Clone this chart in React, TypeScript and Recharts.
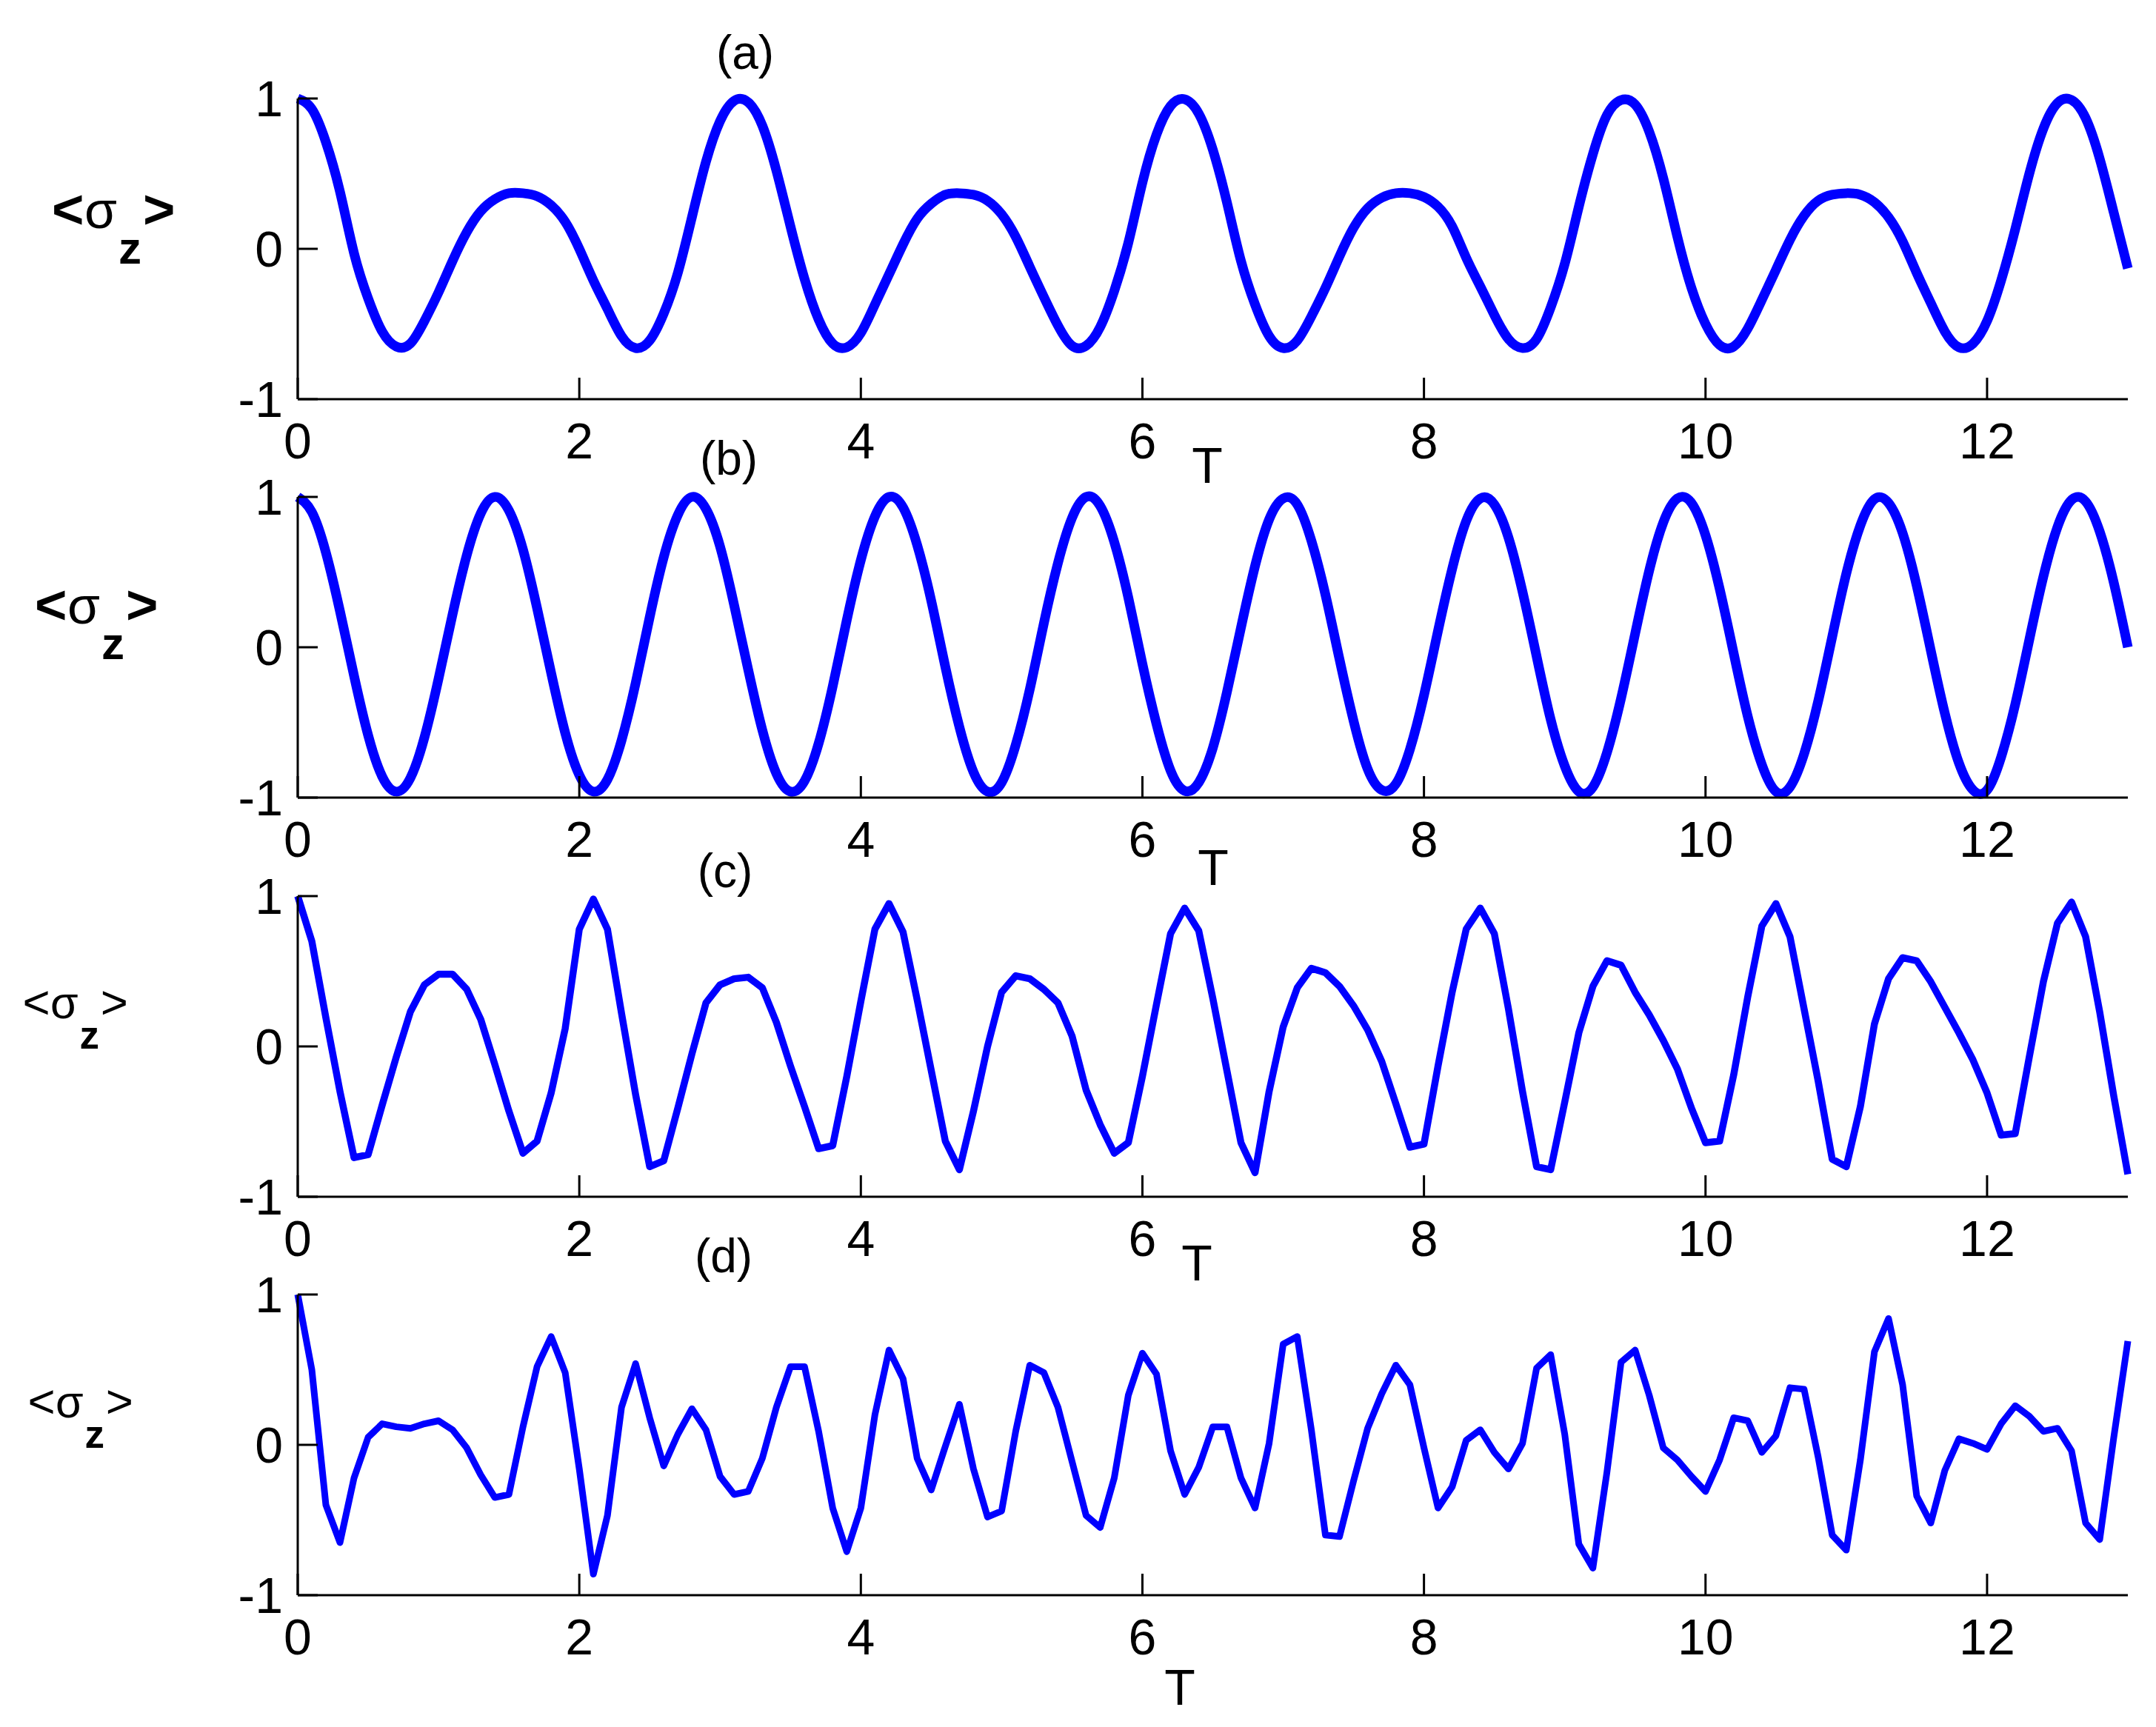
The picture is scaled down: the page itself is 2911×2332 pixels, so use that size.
import React from "react";
import { LineChart, Line, XAxis, YAxis } from "recharts";

// sampling of T used by all four panels (0 .. 13, step 0.1)
const timeStep = 0.1;
const xTicks = [0, 2, 4, 6, 8, 10, 12];
const yTicks = [-1, 0, 1];
const panelNames = ["(a)", "(b)", "(c)", "(d)"];

// <sigma_z>
const sigmaA = [
    1.0, 0.93, 0.71, 0.38, -0.03, -0.33, -0.55, -0.65, -0.63, -0.48,
    -0.29, -0.08, 0.11, 0.25, 0.33, 0.37, 0.37, 0.35, 0.29, 0.18,
    0.0, -0.21, -0.4, -0.58, -0.66, -0.61, -0.43, -0.16, 0.21, 0.58,
    0.85, 0.985, 0.975, 0.82, 0.52, 0.15, -0.2, -0.47, -0.63, -0.655,
    -0.56, -0.37, -0.17, 0.03, 0.2, 0.3, 0.36, 0.37, 0.36, 0.32,
    0.23, 0.08, -0.12, -0.32, -0.51, -0.645, -0.645, -0.52, -0.28, 0.04,
    0.44, 0.76, 0.95, 0.995, 0.9, 0.66, 0.31, -0.08, -0.37, -0.58,
    -0.66, -0.61, -0.45, -0.26, -0.05, 0.14, 0.27, 0.34, 0.37, 0.37,
    0.345, 0.28, 0.15, -0.06, -0.25, -0.44, -0.6, -0.66, -0.6, -0.39,
    -0.1, 0.28, 0.63, 0.89, 0.99, 0.96, 0.78, 0.47, 0.08, -0.26,
    -0.5, -0.64, -0.65, -0.53, -0.34, -0.14, 0.06, 0.22, 0.32, 0.36,
    0.37, 0.36, 0.31, 0.21, 0.05, -0.16, -0.36, -0.55, -0.655, -0.63,
    -0.48, -0.21, 0.13, 0.5, 0.8, 0.97, 0.99, 0.87, 0.6, 0.24,
    -0.13,
];

const sigmaB = [
    1.0, 0.9, 0.63, 0.24, -0.19, -0.585, -0.86, -0.96, -0.87, -0.6,
    -0.21, 0.22, 0.61, 0.89, 1.0, 0.91, 0.65, 0.26, -0.17, -0.57,
    -0.85, -0.96, -0.88, -0.62, -0.24, 0.2, 0.6, 0.88, 1.0, 0.92,
    0.67, 0.28, -0.15, -0.55, -0.84, -0.96, -0.89, -0.64, -0.26, 0.18,
    0.58, 0.87, 1.0, 0.93, 0.68, 0.31, -0.13, -0.53, -0.83, -0.96,
    -0.9, -0.65, -0.28, 0.16, 0.56, 0.86, 1.0, 0.94, 0.7, 0.33,
    -0.11, -0.51, -0.82, -0.955, -0.9, -0.67, -0.3, 0.13, 0.54, 0.85,
    0.99, 0.95, 0.71, 0.35, -0.08, -0.49, -0.81, -0.95, -0.91, -0.68,
    -0.32, 0.11, 0.52, 0.84, 0.99, 0.95, 0.73, 0.37, -0.06, -0.48,
    -0.79, -0.96, -0.93, -0.7, -0.34, 0.09, 0.51, 0.83, 0.99, 0.96,
    0.745, 0.39, -0.04, -0.46, -0.78, -0.96, -0.93, -0.71, -0.36, 0.07,
    0.49, 0.81, 0.985, 0.96, 0.76, 0.41, -0.02, -0.44, -0.77, -0.95,
    -0.95, -0.73, -0.38, 0.05, 0.47, 0.8, 0.98, 0.97, 0.77, 0.43,
    0.0,
];

const sigmaC = [
    1.0, 0.7, 0.19, -0.3, -0.74, -0.72, -0.39, -0.07, 0.23, 0.41,
    0.48, 0.48, 0.38, 0.18, -0.12, -0.43, -0.71, -0.63, -0.31, 0.12,
    0.78, 0.98, 0.78, 0.22, -0.32, -0.8, -0.76, -0.41, -0.05, 0.29,
    0.41, 0.45, 0.46, 0.39, 0.16, -0.13, -0.4, -0.68, -0.66, -0.2,
    0.3, 0.78, 0.95, 0.76, 0.31, -0.16, -0.63, -0.82, -0.43, 0.0,
    0.36, 0.47, 0.45, 0.38, 0.29, 0.07, -0.29, -0.52, -0.71, -0.64,
    -0.2, 0.28, 0.75, 0.92, 0.77, 0.32, -0.16, -0.64, -0.84, -0.3,
    0.13, 0.39, 0.52, 0.49, 0.4, 0.27, 0.11, -0.1, -0.38, -0.67,
    -0.65, -0.13, 0.36, 0.78, 0.92, 0.75, 0.25, -0.3, -0.8, -0.82,
    -0.37, 0.09, 0.4, 0.57, 0.54, 0.36, 0.21, 0.04, -0.15, -0.41,
    -0.64, -0.63, -0.19, 0.33, 0.8, 0.95, 0.73, 0.25, -0.23, -0.75,
    -0.8, -0.4, 0.15, 0.45, 0.59, 0.57, 0.43, 0.26, 0.09, -0.09,
    -0.31, -0.59, -0.58, -0.07, 0.43, 0.82, 0.96, 0.73, 0.23, -0.33,
    -0.85,
];

const sigmaD = [
    1.0, 0.5, -0.4, -0.65, -0.22, 0.05, 0.14, 0.12, 0.11, 0.14,
    0.16, 0.1, -0.02, -0.2, -0.35, -0.33, 0.12, 0.52, 0.72, 0.48,
    -0.16, -0.86, -0.47, 0.25, 0.54, 0.18, -0.14, 0.07, 0.24, 0.1,
    -0.21, -0.33, -0.31, -0.09, 0.25, 0.52, 0.52, 0.09, -0.42, -0.71,
    -0.42, 0.2, 0.63, 0.44, -0.09, -0.3, -0.01, 0.27, -0.16, -0.48,
    -0.44, 0.09, 0.53, 0.48, 0.25, -0.11, -0.47, -0.55, -0.22, 0.33,
    0.61, 0.47, -0.04, -0.33, -0.15, 0.12, 0.12, -0.22, -0.42, 0.01,
    0.67, 0.72, 0.1, -0.6, -0.61, -0.24, 0.11, 0.34, 0.53, 0.4,
    -0.02, -0.42, -0.28, 0.03, 0.1, -0.05, -0.16, 0.01, 0.51, 0.6,
    0.07, -0.66, -0.82, -0.18, 0.55, 0.63, 0.33, -0.02, -0.1, -0.21,
    -0.31, -0.1, 0.18, 0.16, -0.05, 0.06, 0.38, 0.37, -0.08, -0.6,
    -0.7, -0.1, 0.62, 0.84, 0.4, -0.34, -0.52, -0.17, 0.04, 0.01,
    -0.03, 0.14, 0.26, 0.19, 0.09, 0.11, -0.04, -0.52, -0.63, 0.05,
    0.69,
];

const FONT = "'Liberation Sans', Arial, Helvetica, sans-serif";
const BLUE = "#0000ff";
const CHART_W = 2911;
const CHART_H = 700;
const PLOT_TOP = 133; // plot top inside each chart svg
const PLOT_H = 406;
const Y_AXIS_W = 100;
const X_AXIS_H = 100;

const toRows = (vals: number[]) =>
    vals.map((v, i) => ({ t: Math.round(i * timeStep * 10) / 10, v }));

// layout for each panel (page y of the plot top, label spots in chart coords)
const panels = [
    { name: panelNames[0], values: sigmaA, plotTop: 133, lw: 13, smooth: true,
      sig: { cx: 156, cy: 311, size: 62, bold: true }, nameX: 1006, nameY: 93, tX: 1630, tY: 652 },
    { name: panelNames[1], values: sigmaB, plotTop: 671, lw: 13, smooth: true,
      sig: { cx: 133, cy: 307, size: 62, bold: true }, nameX: 984, nameY: 103, tX: 1638, tY: 657 },
    { name: panelNames[2], values: sigmaC, plotTop: 1210, lw: 9.5, smooth: false,
      sig: { cx: 104, cy: 301, size: 53, bold: false }, nameX: 979, nameY: 121, tX: 1616, tY: 652 },
    { name: panelNames[3], values: sigmaD, plotTop: 1748, lw: 9, smooth: false,
      sig: { cx: 111, cy: 302, size: 53, bold: false }, nameX: 977, nameY: 103, tX: 1593, tY: 687 },
];

// inward tick + label below the axis
const XTick = (props: any) => {
    const { x, y, payload } = props;
    return (
        <g>
            <line x1={x} x2={x} y1={y} y2={y - 29} stroke="#000" strokeWidth={3} />
            <text x={x} y={y + 80} textAnchor="middle" fontFamily={FONT} fontSize={68} fill="#000">
                {payload.value}
            </text>
        </g>
    );
};

const YTick = (props: any) => {
    const { x, y, payload } = props;
    return (
        <g>
            <line x1={x} x2={x + 27} y1={y} y2={y} stroke="#000" strokeWidth={3} />
            <text x={x - 20} y={y + 24} textAnchor="end" fontFamily={FONT} fontSize={68} fill="#000">
                {payload.value}
            </text>
        </g>
    );
};

const SigmaLabel = ({ cx, cy, size, bold }: { cx: number; cy: number; size: number; bold: boolean }) => {
    const k = size / 62;
    const base = cy - 3 * k;
    const w = bold ? "bold" : "normal";
    const bracket = size * 1.2;
    return (
        <text fontFamily={FONT} fontSize={size} fill="#000">
            <tspan x={cx - 86 * k} y={base} fontWeight={w} fontSize={bracket}>{"<"}</tspan>
            <tspan x={cx - 42 * k} y={base} fontSize={size * 1.15}>{"σ"}</tspan>
            <tspan x={cx + 4 * k} y={cy + 45 * k} fontWeight="bold">{"z"}</tspan>
            <tspan x={cx + 37 * k} y={base} fontWeight={w} fontSize={bracket}>{">"}</tspan>
        </text>
    );
};

export default function App() {
    return (
        <div
            style={{
                position: "absolute",
                left: 0,
                top: 0,
                width: 2911,
                height: 2332,
                background: "#fff",
                overflow: "hidden",
            }}
        >
            {panels.map((p) => (
                <div key={p.name} style={{ position: "absolute", left: 0, top: p.plotTop - PLOT_TOP }}>
                    <LineChart
                        width={CHART_W}
                        height={CHART_H}
                        data={toRows(p.values)}
                        margin={{
                            top: PLOT_TOP,
                            right: 38,
                            bottom: CHART_H - PLOT_TOP - PLOT_H - X_AXIS_H,
                            left: 402 - Y_AXIS_W,
                        }}
                    >
                        <XAxis
                            type="number"
                            dataKey="t"
                            domain={[0, 13]}
                            ticks={xTicks}
                            interval={0}
                            height={X_AXIS_H}
                            tickSize={0}
                            tickMargin={0}
                            tickLine={false}
                            axisLine={{ stroke: "#000", strokeWidth: 3 }}
                            tick={(props: any) => <XTick {...props} />}
                        />
                        <YAxis
                            type="number"
                            domain={[-1, 1]}
                            ticks={yTicks}
                            interval={0}
                            width={Y_AXIS_W}
                            tickSize={0}
                            tickMargin={0}
                            tickLine={false}
                            axisLine={{ stroke: "#000", strokeWidth: 3 }}
                            tick={(props: any) => <YTick {...props} />}
                        />
                        <Line
                            type={p.smooth ? "natural" : "linear"}
                            dataKey="v"
                            stroke={BLUE}
                            strokeWidth={p.lw}
                            strokeLinejoin="round"
                            dot={false}
                            activeDot={false}
                            isAnimationActive={false}
                        />
                        <text x={p.nameX} y={p.nameY} textAnchor="middle" fontFamily={FONT} fontSize={64} fill="#000">
                            {p.name}
                        </text>
                        <text x={p.tX} y={p.tY} textAnchor="middle" fontFamily={FONT} fontSize={68} fill="#000">
                            T
                        </text>
                        <SigmaLabel {...p.sig} />
                    </LineChart>
                </div>
            ))}
        </div>
    );
}
